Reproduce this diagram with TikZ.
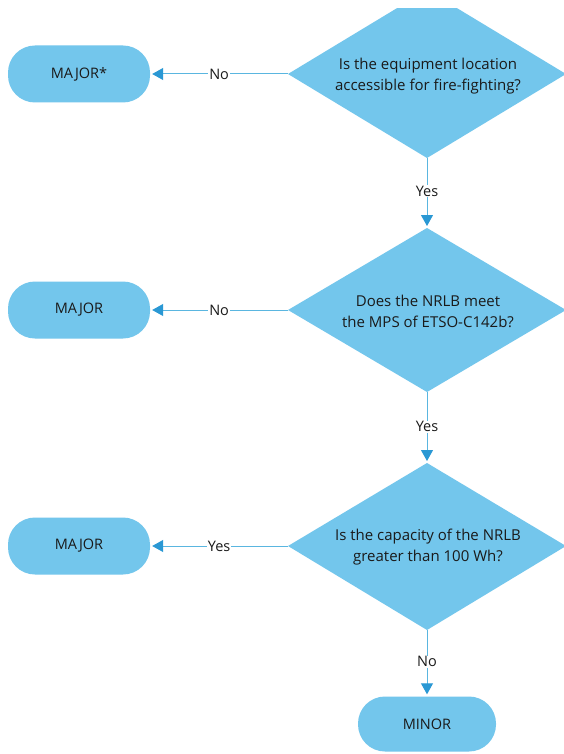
\documentclass[tikz,border=0pt]{standalone}
\usepackage{fontspec}
\setmainfont{Open Sans}
\usetikzlibrary{shapes.geometric,arrows.meta}
\definecolor{boxfill}{HTML}{73C6EC}
\definecolor{linecol}{HTML}{5AB6E0}
\definecolor{headcol}{HTML}{2A98D4}
\definecolor{txt}{HTML}{1A1A1A}
\begin{document}
\begin{tikzpicture}[x=1pt,y=-1pt,
  term/.style={draw=none,fill=boxfill,rounded corners=27pt,minimum width=142pt,minimum height=57pt,inner sep=0pt,text=txt,font=\fontsize{14.5}{16}\selectfont},
  conn/.style={draw=linecol,line width=1pt,shorten >=2pt,-{Triangle[length=11pt,width=12pt,fill=headcol,color=headcol]}},
  lbl/.style={fill=white,inner sep=1pt,text=txt,font=\fontsize{14.5}{16}\selectfont},
  qtext/.style={text=txt,align=center,font=\fontsize{15}{21}\selectfont}]
\useasboundingbox (0,0) rectangle (564,754);
\fill[white] (0,0) rectangle (564,754);
% diamonds
\begin{scope}
\clip (0,9) rectangle (564,754);
\fill[boxfill] (288,74) -- (427,-10) -- (566,74) -- (427,158) -- cycle;
\end{scope}
\fill[boxfill] (288,310) -- (427,228) -- (566,310) -- (427,392) -- cycle;
\fill[boxfill] (288,546) -- (427,463) -- (566,546) -- (427,630) -- cycle;
\coordinate (d1l) at (288,74);
\coordinate (d1b) at (427,158);
\coordinate (d2t) at (427,228);
\coordinate (d2l) at (288,310);
\coordinate (d2b) at (427,392);
\coordinate (d3t) at (427,463);
\coordinate (d3l) at (288,546);
\coordinate (d3b) at (427,630);
\node[qtext] (q1) at (428,76) {Is the equipment location\\accessible for fire-fighting?};
\node[qtext] (q2) at (428,311) {Does the NRLB meet\\the MPS of ETSO-C142b?};
\node[qtext] (q3) at (428,547) {Is the capacity of the NRLB\\greater than 100 Wh?};
% terminals
\node[term] (t1) at (79,74) {MAJOR*};
\node[term] (t2) at (79,310) {MAJOR};
\node[term] (t3) at (79,546) {MAJOR};
\node[term,minimum width=138pt,minimum height=55pt] (t4) at (427,724) {MINOR};
% connectors
\draw[conn] (d1l) -- node[lbl,pos=0.5]{No} (t1.east);
\draw[conn] (d2l) -- node[lbl,pos=0.5]{No} (t2.east);
\draw[conn] (d3l) -- node[lbl,pos=0.5]{Yes} (t3.east);
\draw[conn] (d1b) -- node[lbl,pos=0.47]{Yes} (d2t);
\draw[conn] (d2b) -- node[lbl,pos=0.49]{Yes} (d3t);
\draw[conn] (d3b) -- node[lbl,pos=0.48]{No} (t4.north);
\end{tikzpicture}
\end{document}
